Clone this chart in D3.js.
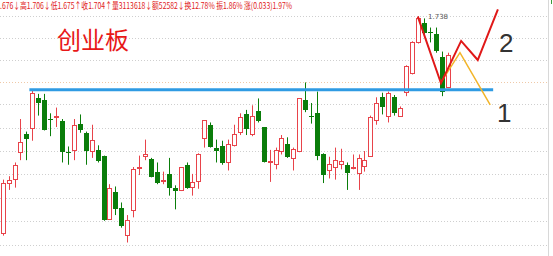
<!DOCTYPE html>
<html>
<head>
<meta charset="utf-8">
<script src="https://cdn.jsdelivr.net/npm/d3@7"></script>
<style>
body { margin: 0; background: #fff; }
svg { display: block; }
</style>
</head>
<body>
<div class="chart"></div>
<script>
chartWidth = 553;
chartHeight = 256;
plotRight = 548;

// daily candles, oldest first
opens  = [1.548,1.592,1.596,1.619,1.635,1.640,1.666,1.665,1.648,1.650,1.646,1.619,1.621,1.644,1.636,1.620,1.621,1.616,1.561,1.584,
          1.570,1.547,1.568,1.605,1.615,1.613,1.602,1.594,1.600,1.588,1.586,1.608,1.589,1.593,1.631,1.643,1.623,1.624,1.610,1.625,
          1.637,1.652,1.635,1.655,1.641,1.610,1.609,1.620,1.626,1.614,1.620,1.665,1.651,1.653,1.617,1.604,1.606,1.608,1.608,1.605,
          1.601,1.607,1.616,1.647,1.667,1.651,1.667,1.651,1.671,1.688,1.715,1.732,1.724,1.722,1.702,1.676];
highs  = [1.595,1.598,1.610,1.648,1.637,1.673,1.670,1.670,1.653,1.658,1.648,1.624,1.648,1.652,1.637,1.643,1.625,1.616,1.591,1.589,
          1.575,1.564,1.606,1.616,1.630,1.614,1.610,1.602,1.614,1.590,1.606,1.610,1.600,1.618,1.647,1.645,1.630,1.629,1.630,1.643,
          1.653,1.656,1.660,1.666,1.641,1.621,1.623,1.634,1.632,1.623,1.666,1.680,1.662,1.672,1.618,1.615,1.623,1.622,1.610,1.617,
          1.617,1.620,1.651,1.667,1.671,1.672,1.669,1.659,1.695,1.716,1.738,1.736,1.728,1.728,1.707,1.706];
lows   = [1.546,1.586,1.588,1.612,1.612,1.629,1.651,1.638,1.633,1.641,1.610,1.608,1.612,1.636,1.608,1.614,1.610,1.559,1.560,1.564,
          1.553,1.540,1.562,1.599,1.612,1.597,1.591,1.591,1.581,1.569,1.585,1.587,1.581,1.587,1.623,1.623,1.610,1.608,1.603,1.624,
          1.634,1.634,1.633,1.645,1.610,1.593,1.604,1.617,1.614,1.603,1.619,1.654,1.644,1.612,1.592,1.596,1.595,1.604,1.586,1.604,
          1.586,1.602,1.615,1.643,1.652,1.645,1.651,1.650,1.668,1.687,1.714,1.722,1.715,1.706,1.668,1.675];
closes = [1.592,1.595,1.608,1.628,1.631,1.671,1.662,1.639,1.647,1.651,1.619,1.618,1.643,1.639,1.620,1.630,1.611,1.560,1.588,1.569,
          1.554,1.560,1.604,1.606,1.617,1.597,1.592,1.595,1.588,1.585,1.606,1.588,1.593,1.617,1.647,1.624,1.620,1.609,1.626,1.635,
          1.650,1.639,1.651,1.646,1.610,1.611,1.621,1.631,1.615,1.622,1.666,1.656,1.650,1.615,1.599,1.609,1.612,1.611,1.601,1.606,
          1.614,1.612,1.650,1.662,1.658,1.671,1.653,1.658,1.694,1.715,1.736,1.723,1.723,1.707,1.671,1.704];

gridPrices = [1.738, 1.719, 1.700, 1.680, 1.661, 1.640, 1.620, 1.600, 1.579, 1.559, 1.538];
markedGrid = 1.680;
supportPrice = 1.6735;
supportFrom = 4.5;
supportTo = 82.7;

// hand drawn scenario lines (candle index, price)
redIdx = [70, 73.9, 77.3, 80.1, 83.5];
redPrice = [1.7375, 1.6793, 1.7163, 1.6996, 1.744];
orangeIdx = [74.0, 77.1, 82.2];
orangePrice = [1.681, 1.706, 1.6603];

headerText = ".676\u2193高1.706\u2193低1.675\u2191收1.704\u2191量3113618\u2193额52582\u2193换12.78% 振1.86% 涨(0.033)1.97%";
maxLabel = "1.738";

var upColor = "#e8434a";
var downColor = "#0a7d0a";

var canvas = d3.select(".chart")
    .append("svg")
    .attr("width", chartWidth)
    .attr("height", chartHeight);

canvas.append("rect")
    .attr("width", chartWidth)
    .attr("height", chartHeight)
    .attr("fill", "#ffffff");

var xScale = d3.scaleLinear().domain([0, opens.length - 1]).range([2.7, 447.5]);
var yScale = d3.scaleLinear().domain([1.5282, 1.7521]).range([chartHeight, 0]);

var candles = opens.map(function(o, i) {
    return {i: i, open: o, high: highs[i], low: lows[i], close: closes[i]};
});

canvas.selectAll(".grid")
    .data(gridPrices)
    .enter().append("line")
    .attr("class", "grid")
    .attr("x1", 0)
    .attr("x2", plotRight)
    .attr("y1", function(d) { return Math.round(yScale(d)) + 0.5; })
    .attr("y2", function(d) { return Math.round(yScale(d)) + 0.5; })
    .attr("stroke", function(d) { return d === markedGrid ? "#efc9a8" : "#cfcfcf"; })
    .attr("stroke-dasharray", "1,2");

canvas.append("line")
    .attr("x1", plotRight + 0.5)
    .attr("x2", plotRight + 0.5)
    .attr("y1", 0)
    .attr("y2", chartHeight)
    .attr("stroke", "#d8d8d8");

canvas.append("line")
    .attr("x1", 551.5)
    .attr("x2", 551.5)
    .attr("y1", 0)
    .attr("y2", 4)
    .attr("stroke", "#3a9a3a");

var cx = function(d) { return Math.round(xScale(d.i)); };
var isUp = function(d) { return d.close >= d.open; };

canvas.selectAll(".wick")
    .data(candles)
    .enter().append("line")
    .attr("class", "wick")
    .attr("x1", function(d) { return cx(d) + 0.5; })
    .attr("x2", function(d) { return cx(d) + 0.5; })
    .attr("y1", function(d) { return yScale(d.high); })
    .attr("y2", function(d) { return yScale(d.low); })
    .attr("stroke", function(d) { return isUp(d) ? upColor : downColor; });

canvas.selectAll(".body")
    .data(candles)
    .enter().append("rect")
    .attr("class", "body")
    .attr("x", function(d) { return isUp(d) ? cx(d) - 1.5 : cx(d) - 2; })
    .attr("width", function(d) { return isUp(d) ? 4 : 5; })
    .attr("y", function(d) {
        var top = yScale(Math.max(d.open, d.close));
        return isUp(d) ? Math.round(top) + 0.5 : Math.round(top);
    })
    .attr("height", function(d) {
        var h = Math.round(Math.abs(yScale(d.open) - yScale(d.close)));
        return isUp(d) ? Math.max(h, 0.5) : Math.max(h, 1);
    })
    .attr("fill", function(d) { return isUp(d) ? "#ffffff" : downColor; })
    .attr("stroke", function(d) { return isUp(d) ? upColor : "none"; });

// support level
canvas.append("line")
    .attr("x1", xScale(supportFrom))
    .attr("x2", xScale(supportTo))
    .attr("y1", yScale(supportPrice))
    .attr("y2", yScale(supportPrice))
    .attr("stroke", "#2f9be3")
    .attr("stroke-width", 3);

var lineGen = d3.line()
    .x(function(d) { return xScale(d[0]); })
    .y(function(d) { return yScale(d[1]); });

canvas.append("path")
    .attr("d", lineGen(orangeIdx.map(function(v, i) { return [v, orangePrice[i]]; })))
    .attr("fill", "none")
    .attr("stroke", "#f2b52a")
    .attr("stroke-width", 1.5);

canvas.append("path")
    .attr("d", lineGen(redIdx.map(function(v, i) { return [v, redPrice[i]]; })))
    .attr("fill", "none")
    .attr("stroke", "#e01818")
    .attr("stroke-width", 2);

canvas.append("text")
    .attr("x", 0)
    .attr("y", 9)
    .attr("textLength", 292)
    .attr("lengthAdjust", "spacingAndGlyphs")
    .attr("font-family", "'Noto Sans CJK SC', sans-serif")
    .attr("font-size", 9)
    .attr("fill", "#e02020")
    .text(headerText);

canvas.append("text")
    .attr("x", 428)
    .attr("y", 19)
    .attr("font-family", "'DejaVu Sans', sans-serif")
    .attr("font-size", 7)
    .attr("fill", "#555555")
    .text(maxLabel);

canvas.append("text")
    .attr("x", 57)
    .attr("y", 49)
    .attr("font-family", "'Noto Sans CJK SC', sans-serif")
    .attr("font-size", 24)
    .attr("fill", "#e81818")
    .text("创业板");

canvas.append("text")
    .attr("x", 499)
    .attr("y", 52)
    .attr("font-family", "'Liberation Sans', Arial, sans-serif")
    .attr("font-size", 26)
    .attr("fill", "#333333")
    .text("2");

canvas.append("text")
    .attr("x", 497)
    .attr("y", 122)
    .attr("font-family", "'Liberation Sans', Arial, sans-serif")
    .attr("font-size", 26)
    .attr("fill", "#333333")
    .text("1");
</script>
</body>
</html>
